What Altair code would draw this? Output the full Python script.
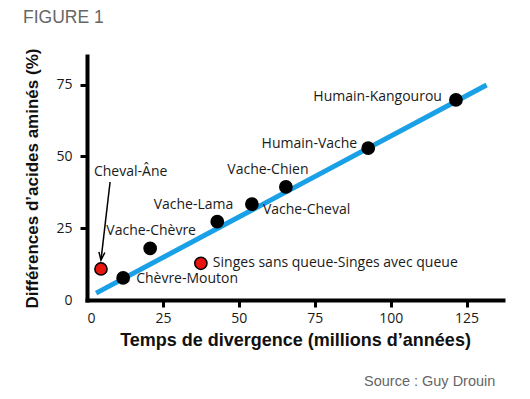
import altair as alt
import pandas as pd

# ---- data ----
pairs = ["Cheval-Âne", "Chèvre-Mouton", "Vache-Chèvre",
         "Singes sans queue-Singes avec queue", "Vache-Lama", "Vache-Cheval",
         "Vache-Chien", "Humain-Vache", "Humain-Kangourou"]
divergence = [4.6, 11.9, 20.8, 37.5, 42.9, 54.3, 65.5, 92.6, 121.5]
difference = [10.8, 7.7, 18.0, 12.8, 27.3, 33.4, 39.4, 52.9, 69.7]
highlight = ["oui", "non", "non", "oui", "non", "non", "non", "non", "non"]

fit_x = [3.0, 131.6]
fit_y = [2.4, 74.9]

arrow_start = [7.6, 41.1]
arrow_tip = [4.6, 13.9]

x_ticks = [0, 25, 50, 75, 100, 125]
y_ticks = [0, 25, 50, 75]

x_title = "Temps de divergence (millions d’années)"
y_title = "Différences d’acides aminés (%)"
fig_label = "FIGURE 1"
source_label = "Source : Guy Drouin"

# ---- label placement (style, not data) ----
label_style = {
    "Cheval-Âne": ("left", -7, -97),
    "Chèvre-Mouton": ("left", 13, 1),
    "Vache-Chèvre": ("center", 1, -17),
    "Singes sans queue-Singes avec queue": ("left", 12, 0),
    "Vache-Lama": ("right", 16, -17),
    "Vache-Cheval": ("left", 11, 6),
    "Vache-Chien": ("center", -18, -17),
    "Humain-Vache": ("right", -11, -4),
    "Humain-Kangourou": ("right", -14, -3),
}

df = pd.DataFrame({"pair": pairs, "x": divergence, "y": difference, "hl": highlight})
fit = pd.DataFrame({"x": fit_x, "y": fit_y})
arrow = pd.DataFrame({"x": [arrow_start[0]], "y": [arrow_start[1]],
                      "x2": [arrow_tip[0]], "y2": [arrow_tip[1]]})

LABEL_FONT = "Open Sans"
TITLE_FONT = "Liberation Sans"
hide_zero = {"condition": {"test": "datum.value === 0", "value": 0}, "value": 1}

x_scale = alt.Scale(domain=[0, 137], nice=False, zero=False)
y_scale = alt.Scale(domain=[0, 85], nice=False, zero=False)

x_enc = alt.X("x:Q", scale=x_scale,
              axis=alt.Axis(values=x_ticks, title=x_title, tickOpacity=hide_zero,
                            labelPadding=4, titlePadding=6, titleFontSize=18))
y_enc = alt.Y("y:Q", scale=y_scale,
              axis=alt.Axis(values=y_ticks, title=y_title, tickOpacity=hide_zero,
                            labelPadding=8, titlePadding=14, titleFontSize=17))

line = alt.Chart(fit).mark_line(color="#1aa0e6", strokeWidth=5, strokeCap="butt").encode(
    x=x_enc, y=y_enc)

rule = alt.Chart(arrow).mark_rule(color="black", strokeWidth=1.5).encode(
    x="x:Q", y="y:Q", x2="x2:Q", y2="y2:Q")

head = alt.Chart(arrow).mark_point(
    shape="M-0.75,-2L0,0L0.75,-2", size=64, filled=False, stroke="black",
    strokeWidth=1.5, angle=6.6, opacity=1).encode(x="x2:Q", y="y2:Q")

points = alt.Chart(df).mark_point(filled=True, shape="circle", size=150,
                                  stroke="black", strokeWidth=1.5, opacity=1).encode(
    x=x_enc, y=y_enc,
    fill=alt.Fill("hl:N", scale=alt.Scale(domain=["non", "oui"], range=["#000000", "#e8140f"]),
                  legend=None))

labels = []
for name in pairs:
    align, dx, dy = label_style[name]
    labels.append(
        alt.Chart(df).transform_filter(alt.datum.pair == name).mark_text(
            align=align, baseline="middle", dx=dx, dy=dy, font=LABEL_FONT,
            fontSize=14, color="#1a1a1a").encode(x=x_enc, y=y_enc, text="pair:N"))

fig_text = alt.Chart(alt.Data(values=[{}])).mark_text(
    align="left", baseline="middle", font=TITLE_FONT, fontSize=17.5, color="#666666").encode(
    x=alt.value(-64), y=alt.value(-38.5), text=alt.value(fig_label))

src_text = alt.Chart(alt.Data(values=[{}])).mark_text(
    align="left", baseline="middle", font=TITLE_FONT, fontSize=14.5, color="#666666").encode(
    x=alt.value(277), y=alt.value(326), text=alt.value(source_label))

chart = alt.layer(line, rule, head, points, *labels, fig_text, src_text).properties(
    width=416, height=244,
    autosize=alt.AutoSizeParams(type="none"),
    padding={"left": 79, "top": 48, "right": 19, "bottom": 91},
).configure_view(stroke=None).configure_axis(
    grid=False,
    domainColor="black", domainWidth=4, domainCap="square",
    tickColor="black", tickWidth=3, tickSize=7,
    labelFont=LABEL_FONT, labelFontSize=14, labelColor="#1a1a1a",
    titleFont=TITLE_FONT, titleFontWeight="bold", titleColor="#111111",
)

chart.save("out.html", embed_options={"renderer": "svg", "actions": False})
